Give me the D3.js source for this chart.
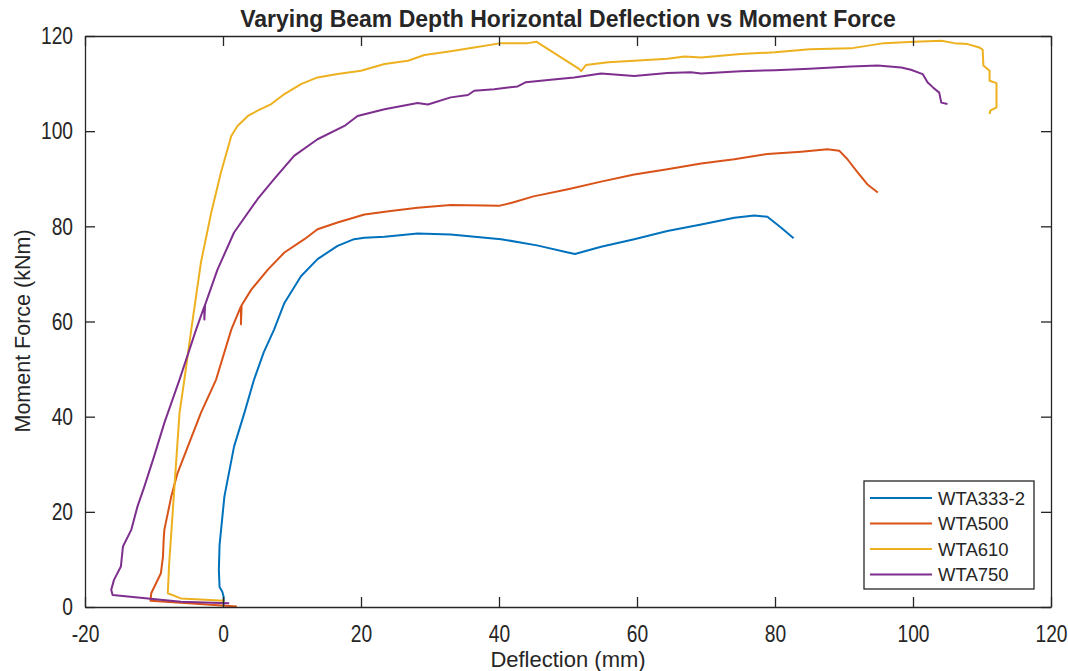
<!DOCTYPE html>
<html>
<head>
<meta charset="utf-8">
<title>Varying Beam Depth Horizontal Deflection vs Moment Force</title>
<script src="https://d3js.org/d3.v7.min.js"></script>
<style>
  body { margin: 0; background: #fff; }
  text { font-family: "Liberation Sans", Arial, sans-serif; fill: #262626; }
</style>
</head>
<body>
<script>
// series names and colours (MATLAB default order)
var seriesNames = ['WTA333-2', 'WTA500', 'WTA610', 'WTA750'];
var seriesColors = ['#0072BD', '#D95319', '#EDB120', '#7E2F8E'];

var xTicks = [-20, 0, 20, 40, 60, 80, 100, 120];
var yTicks = [0, 20, 40, 60, 80, 100, 120];

// deflection (mm) / moment (kNm)
var wta333x = [0.1, 0.1, -0.1, -0.5, -0.6, -0.5, 0.2, 1.6, 3.1, 4.5, 5.9, 7.4, 8.9, 11.3, 13.7, 16.6, 19.0, 20.5, 23.4, 28.2, 33.0, 40.3, 45.5, 50.0, 51.0, 54.8, 59.6, 64.4, 69.3, 74.1, 77.0, 78.9, 80.9, 82.7];
var wta333y = [0.3, 2.1, 3.2, 4.2, 7.8, 13.0, 23.2, 33.7, 40.8, 47.8, 53.5, 58.3, 63.9, 69.5, 73.1, 75.9, 77.3, 77.6, 77.8, 78.5, 78.3, 77.3, 76.0, 74.5, 74.2, 75.7, 77.3, 79.0, 80.4, 81.8, 82.3, 82.0, 79.7, 77.5];

var wta500x = [2.0, -5.0, -10.5, -10.4, -9.0, -8.7, -8.6, -8.5, -7.5, -6.6, -5.1, -3.2, -1.0, 1.2, 2.6, 2.6, 2.7, 4.1, 6.5, 8.9, 11.8, 13.7, 16.6, 20.5, 24.3, 28.2, 33.0, 38.0, 40.0, 42.0, 45.0, 50.0, 54.8, 59.6, 64.4, 69.3, 74.1, 78.9, 83.8, 87.6, 89.3, 90.5, 92.0, 93.4, 94.9];
var wta500y = [0.1, 0.8, 1.3, 2.9, 7.1, 10.6, 14.1, 16.2, 23.2, 28.1, 33.7, 40.8, 47.8, 58.3, 63.2, 59.4, 63.4, 66.7, 70.9, 74.5, 77.3, 79.4, 80.8, 82.5, 83.2, 83.9, 84.5, 84.4, 84.3, 85.0, 86.3, 87.8, 89.4, 90.9, 92.0, 93.2, 94.1, 95.2, 95.7, 96.2, 95.9, 94.1, 91.3, 88.8, 87.1];

var wta610x = [0.2, -6.1, -8.0, -7.8, -7.3, -6.8, -6.3, -5.6, -4.6, -3.2, -1.7, -0.3, 1.2, 2.1, 3.6, 5.0, 7.0, 8.9, 11.3, 13.7, 16.6, 20.0, 23.4, 26.8, 29.2, 33.0, 36.4, 40.3, 44.2, 45.4, 51.6, 51.9, 52.6, 55.8, 59.6, 64.4, 66.9, 69.3, 75.0, 80.0, 85.0, 91.0, 95.8, 100.2, 104.1, 106.0, 107.9, 109.6, 110.1, 110.2, 111.1, 111.1, 112.1, 112.1, 111.2, 111.1];
var wta610y = [1.3, 1.8, 2.9, 9.2, 19.7, 30.3, 40.8, 47.8, 58.3, 72.4, 82.9, 91.3, 99.0, 101.1, 103.2, 104.3, 105.7, 107.8, 109.9, 111.3, 112.0, 112.7, 114.1, 114.8, 116.0, 116.8, 117.6, 118.5, 118.5, 118.8, 113.1, 112.6, 113.9, 114.5, 114.8, 115.2, 115.7, 115.5, 116.2, 116.6, 117.2, 117.4, 118.5, 118.8, 119.0, 118.5, 118.3, 117.6, 117.1, 113.8, 112.7, 110.6, 110.1, 105.0, 104.3, 103.6];

var wta750x = [0.9, -6.1, -16.0, -16.2, -15.8, -14.8, -14.5, -13.3, -12.4, -11.4, -10.0, -8.5, -6.3, -3.9, -2.7, -2.7, -2.6, -0.8, 1.6, 5.0, 7.4, 10.3, 13.7, 17.6, 19.5, 23.4, 28.2, 29.7, 33.0, 35.5, 36.4, 39.3, 42.7, 43.9, 47.5, 50.9, 54.8, 59.6, 64.4, 67.8, 69.3, 75.0, 80.0, 85.0, 91.0, 94.9, 98.3, 99.7, 101.4, 102.1, 102.9, 103.8, 104.1, 105.0];
var wta750y = [0.8, 1.1, 2.5, 3.6, 5.7, 8.5, 12.7, 16.2, 21.1, 25.3, 31.6, 38.7, 47.8, 58.3, 63.2, 60.4, 63.5, 70.9, 78.7, 85.7, 89.9, 94.8, 98.3, 101.1, 103.2, 104.6, 105.9, 105.6, 107.1, 107.6, 108.5, 108.8, 109.4, 110.3, 110.8, 111.3, 112.1, 111.6, 112.2, 112.4, 112.1, 112.6, 112.8, 113.1, 113.6, 113.8, 113.4, 112.9, 112.0, 110.3, 109.2, 108.1, 106.0, 105.7];

var seriesX = [wta333x, wta500x, wta610x, wta750x];
var seriesY = [wta333y, wta500y, wta610y, wta750y];

var width = 1068, height = 671;
var margin = {top: 36, right: 17, bottom: 64, left: 85};
var plotW = width - margin.left - margin.right;
var plotH = height - margin.top - margin.bottom;
var axisColor = '#262626';
var squeeze = 0.8; // tick labels in the original are tall and narrow

var svg = d3.select('body').append('svg')
    .attr('width', width)
    .attr('height', height);

var x = d3.scaleLinear().domain([-20, 120]).range([margin.left, margin.left + plotW]);
var y = d3.scaleLinear().domain([0, 120]).range([margin.top + plotH, margin.top]);

// data lines
var line = d3.line()
    .x(function(d) { return x(d[0]); })
    .y(function(d) { return y(d[1]); });

var lines = svg.append('g').attr('class', 'lines');
seriesNames.forEach(function(name, i) {
  var pts = seriesX[i].map(function(v, j) { return [v, seriesY[i][j]]; });
  lines.append('path')
    .datum(pts)
    .attr('d', line)
    .attr('fill', 'none')
    .attr('stroke', seriesColors[i])
    .attr('stroke-width', 2)
    .attr('stroke-linejoin', 'round');
});

// plain hyphen for negatives, like the original
var fmt = function(d) { return String(d); };

// axes: ticks pointing inward, box all round
var tickLen = 10;
var xAxis = d3.axisBottom(x).tickValues(xTicks).tickFormat(fmt).tickSizeInner(-tickLen).tickSizeOuter(0).tickPadding(18);
var yAxis = d3.axisLeft(y).tickValues(yTicks).tickFormat(fmt).tickSizeInner(-tickLen).tickSizeOuter(0).tickPadding(12);
var xTop = d3.axisTop(x).tickValues(xTicks).tickSizeInner(-tickLen).tickSizeOuter(0).tickFormat('');
var yRight = d3.axisRight(y).tickValues(yTicks).tickSizeInner(-tickLen).tickSizeOuter(0).tickFormat('');

function styleAxis(g) {
  g.selectAll('.domain').attr('stroke', axisColor).attr('stroke-width', 1.3);
  g.selectAll('.tick line').attr('stroke', axisColor).attr('stroke-width', 1.3);
  g.selectAll('.tick text').attr('font-size', 24).attr('fill', axisColor)
    .attr('transform', 'scale(' + squeeze + ',1)');
}

svg.append('g').attr('transform', 'translate(0,' + (margin.top + plotH) + ')').call(xAxis).call(styleAxis);
var gy = svg.append('g').attr('transform', 'translate(' + margin.left + ',0)').call(yAxis).call(styleAxis);
gy.selectAll('.tick text').attr('x', -12 / squeeze);
svg.append('g').attr('transform', 'translate(0,' + margin.top + ')').call(xTop).call(styleAxis);
svg.append('g').attr('transform', 'translate(' + (margin.left + plotW) + ',0)').call(yRight).call(styleAxis);

// title and axis labels
svg.append('text')
    .attr('x', margin.left + plotW / 2)
    .attr('y', 27)
    .attr('text-anchor', 'middle')
    .attr('font-size', 23)
    .attr('font-weight', 'bold')
    .attr('fill', '#000')
    .text('Varying Beam Depth Horizontal Deflection vs Moment Force');

svg.append('text')
    .attr('x', margin.left + plotW / 2)
    .attr('y', 667)
    .attr('text-anchor', 'middle')
    .attr('font-size', 22)
    .text('Deflection (mm)');

svg.append('text')
    .attr('transform', 'translate(30,331) rotate(-90)')
    .attr('text-anchor', 'middle')
    .attr('font-size', 21.5)
    .text('Moment Force (kNm)');

// legend
var lg = svg.append('g').attr('transform', 'translate(864,481)');
lg.append('rect')
    .attr('width', 170)
    .attr('height', 108)
    .attr('fill', '#fff')
    .attr('stroke', axisColor)
    .attr('stroke-width', 1.3);

seriesNames.forEach(function(name, i) {
  var yy = 17 + i * 25.5;
  lg.append('line')
    .attr('x1', 6).attr('x2', 68)
    .attr('y1', yy).attr('y2', yy)
    .attr('stroke', seriesColors[i])
    .attr('stroke-width', 2);
  lg.append('text')
    .attr('x', 74)
    .attr('y', yy + 6.5)
    .attr('font-size', 18.5)
    .attr('fill', '#000')
    .text(name);
});
</script>
</body>
</html>
